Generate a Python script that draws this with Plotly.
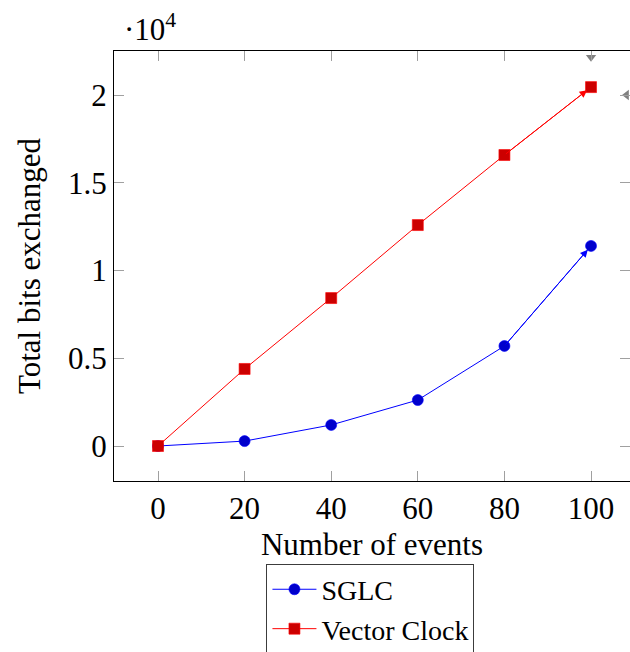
import plotly.graph_objects as go

events = [0, 20, 40, 60, 80, 100]
sglc = [0, 280, 1200, 2620, 5700, 11400]
vector_clock = [0, 4390, 8430, 12590, 16580, 20450]
y_tickvals = [0, 5000, 10000, 15000, 20000]
y_ticktext = ["0", "0.5", "1", "1.5", "2"]
x_tickvals = [0, 20, 40, 60, 80, 100]

FONT = "Liberation Serif"
FS = 31
fig = go.Figure()

fig.add_trace(go.Scatter(
    x=events, y=sglc, name="SGLC", mode="lines+markers",
    line=dict(color="rgb(0,0,255)", width=1),
    marker=dict(symbol="circle", size=11, color="rgb(0,0,204)",
                line=dict(color="rgb(0,0,255)", width=0.6)),
))
fig.add_trace(go.Scatter(
    x=events, y=vector_clock, name="Vector Clock", mode="lines+markers",
    line=dict(color="rgb(255,0,0)", width=1),
    marker=dict(symbol="square", size=11, color="rgb(204,0,0)",
                line=dict(color="rgb(255,0,0)", width=0.6)),
))

# arrow tips at the end of each line
for ys, col in [(sglc, "rgb(0,0,255)"), (vector_clock, "rgb(255,0,0)")]:
    fig.add_annotation(x=events[-1], y=ys[-1], ax=events[-2], ay=ys[-2],
                       xref="x", yref="y", axref="x", ayref="y", text="",
                       showarrow=True, arrowhead=2, arrowsize=1.5, arrowwidth=1,
                       arrowcolor=col, standoff=5)

# gray arrow tips on the last ticks of top and right axes
fig.add_trace(go.Scatter(x=[100], y=[22150], mode="markers", showlegend=False,
                         cliponaxis=False, hoverinfo="skip",
                         marker=dict(symbol="triangle-down", size=9, color="gray")))
fig.add_trace(go.Scatter(x=[108.2], y=[20000], mode="markers", showlegend=False,
                         cliponaxis=False, hoverinfo="skip",
                         marker=dict(symbol="triangle-left", size=9, color="gray")))

axis_common = dict(ticks="inside", ticklen=10, tickcolor="rgb(160,160,160)",
                   tickwidth=1, showgrid=False, zeroline=False, automargin=False)

fig.update_layout(
    width=630, height=652,
    margin=dict(l=114, r=0, t=51, b=171, autoexpand=False),
    paper_bgcolor="white", plot_bgcolor="white",
    font=dict(family=FONT, size=FS, color="black"),
    showlegend=True,
    legend=dict(x=0.497, xanchor="center", y=-0.192, yanchor="top",
                bordercolor="rgb(60,60,60)", borderwidth=1,
                font=dict(family=FONT, size=28), itemwidth=44,
                tracegroupgap=0),
    xaxis=dict(range=[-10.16, 109.0], tickvals=x_tickvals,
               showline=True, linecolor="black", linewidth=1,
               title=dict(text="Number of events", font=dict(size=FS), standoff=8),
               tickfont=dict(size=FS), **axis_common),
    yaxis=dict(range=[-1994, 22507], tickvals=y_tickvals, ticktext=y_ticktext,
               showline=True, linecolor="black", linewidth=1,
               title=dict(text="Total bits exchanged", font=dict(size=FS), standoff=18),
               tickfont=dict(size=FS), **axis_common),
    xaxis2=dict(overlaying="x", matches="x", side="top", tickvals=x_tickvals,
                showticklabels=False, showline=True, linecolor="black",
                linewidth=1, anchor="y", **axis_common),
    yaxis2=dict(overlaying="y", matches="y", side="right", tickvals=y_tickvals,
                showticklabels=False, showline=False, anchor="x", **axis_common),
)

fig.add_annotation(x=0, xref="paper", y=1, yref="paper", xanchor="left",
                   yanchor="bottom", xshift=8, yshift=2, showarrow=False,
                   text="·10<sup>4</sup>", font=dict(family=FONT, size=FS))

# dummy invisible trace so the mirrored axes are rendered
fig.add_trace(go.Scatter(x=[0], y=[0], xaxis="x2", yaxis="y2", mode="markers",
                         marker=dict(opacity=0), showlegend=False, hoverinfo="skip"))

fig.write_html("out.html")
